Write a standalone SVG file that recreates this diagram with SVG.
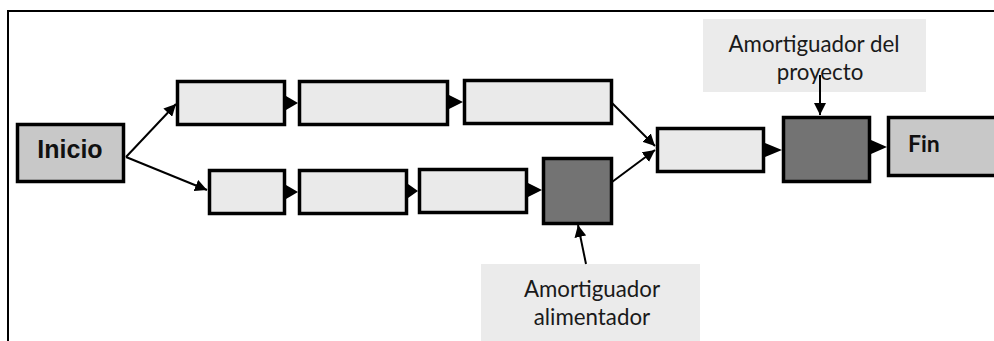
<svg xmlns="http://www.w3.org/2000/svg" width="994" height="341" viewBox="0 0 994 341">
<style>
.box{stroke:#000;stroke-width:3.5}
.lt{fill:#eaeaea}
.md{fill:#c8c8c8}
.dk{fill:#737373}
.lbl{fill:#ebebeb}
.con{stroke:#000;stroke-width:2;fill:none}
.tri{fill:#000}
.cal{font-family:Lato,"Open Sans","Liberation Sans",sans-serif;font-size:22.3px;fill:#1a1a1a}
</style>
<defs>
<marker id="ah2" viewBox="0 0 10 10" refX="10" refY="5" markerWidth="12" markerHeight="12" orient="auto" markerUnits="userSpaceOnUse">
<path d="M0,0 L10,5 L0,10 z" fill="#000"/>
</marker>
</defs>
<rect x="8" y="11" width="1000" height="345" fill="none" stroke="#000" stroke-width="2"/>

<g id="inicio"><rect class="box md" x="17.5" y="124.5" width="106" height="57"/><text x="70" y="158" text-anchor="middle" font-family="Liberation Sans,Arial,sans-serif" font-weight="bold" font-size="25" fill="#111">Inicio</text></g>
<g id="t1"><rect class="box lt" x="177.5" y="81.5" width="107" height="43"/></g>
<g id="t2"><rect class="box lt" x="299.5" y="81.5" width="148" height="43"/></g>
<g id="t3"><rect class="box lt" x="464.5" y="80.5" width="147" height="43"/></g>
<g id="b1"><rect class="box lt" x="209.5" y="170.5" width="75" height="43"/></g>
<g id="b2"><rect class="box lt" x="299.5" y="170.5" width="107" height="43"/></g>
<g id="b3"><rect class="box lt" x="419.5" y="169.5" width="107" height="43"/></g>
<g id="fb"><rect class="box dk" x="543.5" y="158.5" width="68" height="65"/></g>
<g id="r1"><rect class="box lt" x="657.5" y="128.5" width="106" height="43"/></g>
<g id="pb"><rect class="box dk" x="783.5" y="117.5" width="86" height="64"/></g>
<g id="fin"><rect class="box md" x="888.5" y="117.5" width="120" height="58"/><text x="908" y="152" font-family="Lato,'Open Sans',sans-serif" font-weight="bold" font-size="23" fill="#111">Fin</text></g>
<g id="lbl-proyecto"><rect class="lbl" x="703" y="19" width="223" height="73"/><text class="cal" text-anchor="middle" x="814" y="52">Amortiguador del</text><text class="cal" text-anchor="middle" x="820" y="80">proyecto</text></g>
<g id="lbl-alim"><rect class="lbl" x="481" y="264" width="219" height="80"/><text class="cal" text-anchor="middle" x="592" y="297">Amortiguador</text><text class="cal" text-anchor="middle" x="592" y="325">alimentador</text></g>

<g id="connectors">
<line class="con" x1="126" y1="157" x2="176" y2="104" marker-end="url(#ah2)"/>
<line class="con" x1="126" y1="157" x2="207" y2="190" marker-end="url(#ah2)"/>
<line class="con" x1="612" y1="103" x2="655" y2="146" marker-end="url(#ah2)"/>
<line class="con" x1="612" y1="182" x2="655" y2="150" marker-end="url(#ah2)"/>
<line class="con" x1="820" y1="75" x2="820" y2="115" marker-end="url(#ah2)"/>
<line class="con" x1="586" y1="264" x2="578" y2="225" marker-end="url(#ah2)"/>
<polygon class="tri" points="286,96 298,103 286,110"/>
<polygon class="tri" points="449,95 463,102 449,109"/>
<polygon class="tri" points="286,185 298,192 286,199"/>
<polygon class="tri" points="408,184 418,191 408,198"/>
<polygon class="tri" points="528,183 542,190 528,197"/>
<polygon class="tri" points="765,143 782,150 765,157"/>
<polygon class="tri" points="871,140 887,147 871,154"/>
</g>
</svg>
